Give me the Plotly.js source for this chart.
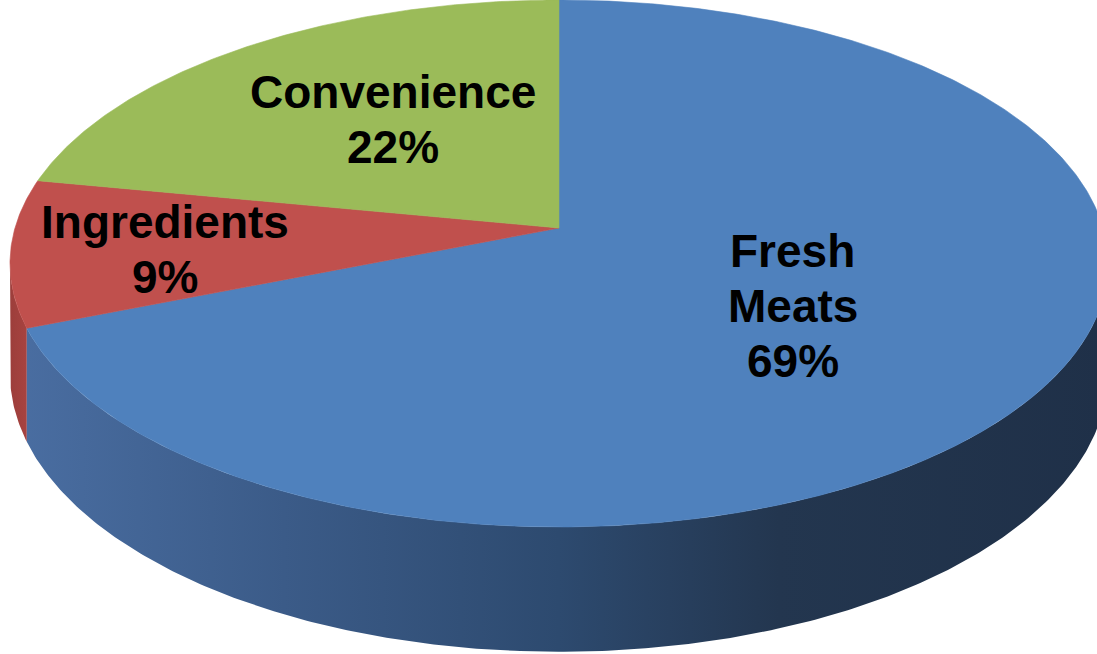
<!DOCTYPE html>
<html>
<head>
<meta charset="utf-8">
<script src="https://cdn.plot.ly/plotly-3.0.1.min.js"></script>
<style>html,body{margin:0;padding:0;background:#fff;}#chart{width:1097px;height:654px;}</style>
</head>
<body>
<div id="chart"></div>
<script>
// ---- data ----
const categories = ['Fresh Meats', 'Ingredients', 'Convenience'];
const shares = [69, 9, 22];
const topColors = ['#4f81bd', '#c0504d', '#9bbb59'];

// ---- geometry of the tilted pie (styling / layout) ----
const CX = 559, CY = 228;      // projected centre of the top face
const A = 544, B = 258.7;      // radii of the projected disc
const K = 0.1347;              // perspective strength
const DEPTH = 108;             // thickness of the pie
const labelFrac = [0.50, 0.72, 0.504];
const labelDy = [-2, -4, 13];
const LINE_GAP = 55;

function proj(deg, f, drop) {
  const t = deg * Math.PI / 180;
  const u = f * Math.sin(t), v = f * Math.cos(t);
  const d = 1 / (1 + K * v);
  return [CX + A * u * d, CY - B * v * d + drop * d];
}
function arc(a0, a1, drop) {
  const pts = [];
  const n = Math.max(2, Math.ceil(Math.abs(a1 - a0) / 0.5));
  for (let i = 0; i <= n; i++) pts.push(proj(a0 + (a1 - a0) * i / n, 1, drop));
  return pts;
}

const total = shares.reduce((s, v) => s + v, 0);
const starts = [], ends = [];
let acc = 0;
shares.forEach(v => { starts.push(acc / total * 360); acc += v; ends.push(acc / total * 360); });

const thR = Math.acos(-K) * 180 / Math.PI;
const thL = 360 - thR;

const sideFill = [
  {type: 'horizontal', start: 10, stop: 1108,
   colorscale: [[0, '#4a6ea2'], [0.25, '#3b5b88'], [0.5, '#2d4a6f'], [0.7, '#23364f'], [1, '#1f3048']]},
  {type: 'horizontal', start: 10, stop: 40,
   colorscale: [[0, '#9c3e3b'], [1, '#b04744']]},
  null
];

const traces = [];
// sides (front-facing parts only)
for (let i = shares.length - 1; i >= 0; i--) {
  const a0 = Math.max(starts[i], thR), a1 = Math.min(ends[i], thL);
  if (a1 <= a0) continue;
  const top = arc(a0, a1, 0);
  const bot = arc(a1, a0, DEPTH);
  const pts = top.concat(bot);
  pts.push(top[0]);
  const tr = {
    type: 'scatter', mode: 'lines', x: pts.map(p => p[0]), y: pts.map(p => p[1]),
    fill: 'toself', line: {width: 0}, hoverinfo: 'skip', fillcolor: '#2d4a6f'
  };
  if (sideFill[i]) tr.fillgradient = sideFill[i];
  traces.push(tr);
}
// top faces
shares.forEach((v, i) => {
  const pts = [[CX, CY]].concat(arc(starts[i], ends[i], 0));
  pts.push([CX, CY]);
  traces.push({
    type: 'scatter', mode: 'lines', x: pts.map(p => p[0]), y: pts.map(p => p[1]),
    fill: 'toself', fillcolor: topColors[i], line: {width: 0.6, color: topColors[i]},
    hoverinfo: 'skip'
  });
});

// labels
const annotations = [];
shares.forEach((v, i) => {
  const mid = (starts[i] + ends[i]) / 2;
  const p = proj(mid, labelFrac[i], 0);
  const lines = categories[i].split(' ').concat([v + '%']);
  const n = lines.length;
  lines.forEach((ln, j) => {
    annotations.push({
      x: p[0], y: p[1], xref: 'x', yref: 'y', showarrow: false,
      text: '<b>' + ln + '</b>', xanchor: 'center', yanchor: 'middle',
      yshift: labelDy[i] - (j - (n - 1) / 2) * LINE_GAP,
      font: {family: 'Liberation Sans, Arial, sans-serif', size: 46, color: '#000'}
    });
  });
});

const layout = {
  width: 1097, height: 654,
  margin: {l: 0, r: 0, t: 0, b: 0, pad: 0},
  paper_bgcolor: '#ffffff', plot_bgcolor: '#ffffff',
  showlegend: false, hovermode: false,
  xaxis: {range: [0, 1097], visible: false, fixedrange: true},
  yaxis: {range: [654, 0], visible: false, fixedrange: true},
  annotations: annotations
};
Plotly.newPlot('chart', traces, layout, {displayModeBar: false, staticPlot: true});
</script>
</body>
</html>
